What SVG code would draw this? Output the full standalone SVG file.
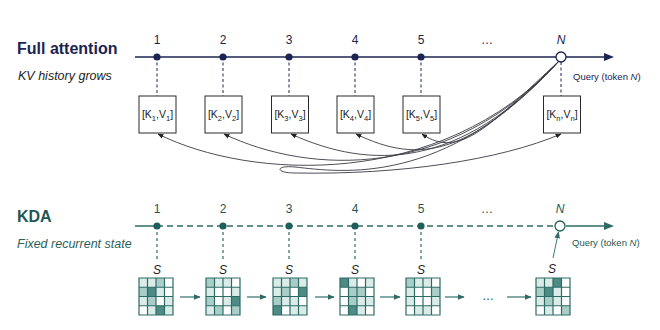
<svg xmlns="http://www.w3.org/2000/svg" width="660" height="330" viewBox="0 0 660 330">
<style>
  text { font-family: "Liberation Sans", Arial, sans-serif; }
  .title { font-size: 16px; font-weight: bold; }
  .sub { font-size: 12.5px; font-style: italic; }
  .num { font-size: 12px; text-anchor: middle; }
  .q { font-size: 9.5px; }
  .navy { fill: #1b2452; }
  .teal { fill: #1f5753; }
  .box { fill: #ffffff; stroke: #2a2a2a; stroke-width: 1; }
  .kv { font-size: 10.5px; fill: #222; text-anchor: middle; }
  .curve { fill: none; stroke: #3a3a44; stroke-width: 0.9; marker-end: url(#ah); }
  .vdashN { stroke: #1b2452; stroke-width: 1; stroke-dasharray: 3 2.5; }
  .vdashT { stroke: #2e6b67; stroke-width: 1.2; stroke-dasharray: 3 3; }
  .gl { fill: none; stroke: #2e6b67; stroke-width: 1.2; }
  .w { fill: #ffffff; } .l { fill: #dbebe8; } .m { fill: #a9cec8; } .d { fill: #4d8b84; }
  .harr { stroke: #3f7a75; stroke-width: 1.3; marker-end: url(#ahT); }
  .S { font-size: 12px; font-style: italic; fill: #222; text-anchor: middle; }
</style>
<defs>
  <marker id="ah" viewBox="0 0 10 10" refX="9" refY="5" markerWidth="6" markerHeight="6" markerUnits="userSpaceOnUse" orient="auto">
    <path d="M0,1 L10,5 L0,9 Z" fill="#222"/>
  </marker>
  <marker id="ahT" viewBox="0 0 10 10" refX="9" refY="5" markerWidth="7" markerHeight="7" markerUnits="userSpaceOnUse" orient="auto">
    <path d="M0,1 L10,5 L0,9 Z" fill="#2e6b67"/>
  </marker>
</defs>

<!-- Titles -->
<text x="17" y="54" class="title navy">Full attention</text>
<text x="18" y="80" class="sub" fill="#222">KV history grows</text>
<text x="17" y="222" class="title teal">KDA</text>
<text x="17" y="248" class="sub" fill="#2b5f5b">Fixed recurrent state</text>

<!-- Top connectors -->
<g id="top-connectors">
  <line x1="135" y1="57" x2="606" y2="57" stroke="#1b2452" stroke-width="1.5"/>
  <path d="M604,53 L614,57 L604,61 Z" fill="#1b2452"/>
  <line x1="157" y1="57" x2="157" y2="96" class="vdashN"/>
  <line x1="223" y1="57" x2="223" y2="96" class="vdashN"/>
  <line x1="289" y1="57" x2="289" y2="96" class="vdashN"/>
  <line x1="355" y1="57" x2="355" y2="96" class="vdashN"/>
  <line x1="421" y1="57" x2="421" y2="96" class="vdashN"/>
  <line x1="561" y1="62" x2="561" y2="96" class="vdashN"/>
  <path class="curve" d="M559,61 C440,190 250,180 158,134"/>
  <path class="curve" d="M559,61 C450,180 310,175 224,134"/>
  <path class="curve" d="M559,61 C460,170 370,170 291,134"/>
  <path class="curve" d="M559,61 C470,155 420,165 356,134"/>
  <path class="curve" d="M559,61 C490,125 460,160 422,134"/>
  <path class="curve" d="M559,61 C445,188 340,172 295,167 C275,165 275,173 295,173 C400,175 500,160 561,134"/>
</g>

<!-- Top nodes -->
<g id="t1"><circle cx="157" cy="57" r="3.6" fill="#1b2452"/><text x="157" y="44" class="num navy">1</text></g>
<g id="t2"><circle cx="223" cy="57" r="3.6" fill="#1b2452"/><text x="223" y="44" class="num navy">2</text></g>
<g id="t3"><circle cx="289" cy="57" r="3.6" fill="#1b2452"/><text x="289" y="44" class="num navy">3</text></g>
<g id="t4"><circle cx="355" cy="57" r="3.6" fill="#1b2452"/><text x="355" y="44" class="num navy">4</text></g>
<g id="t5"><circle cx="421" cy="57" r="3.6" fill="#1b2452"/><text x="421" y="44" class="num navy">5</text></g>
<g id="tdots"><text x="487" y="44" class="num navy">…</text></g>
<g id="tN"><circle cx="561" cy="57" r="5" fill="#fff" stroke="#1b2452" stroke-width="1.3"/><text x="561" y="44" class="num navy" font-style="italic">N</text>
  <text x="573" y="80" class="q navy">Query (token <tspan font-style="italic">N</tspan>)</text></g>

<!-- KV boxes -->
<g id="kv1"><rect x="139" y="96" width="37" height="37" class="box"/><text x="157.5" y="118" class="kv">[K<tspan font-size="7.5" dy="2.5">1</tspan><tspan dy="-2.5">,V</tspan><tspan font-size="7.5" dy="2.5">1</tspan><tspan dy="-2.5">]</tspan></text></g>
<g id="kv2"><rect x="205" y="96" width="37" height="37" class="box"/><text x="223.5" y="118" class="kv">[K<tspan font-size="7.5" dy="2.5">2</tspan><tspan dy="-2.5">,V</tspan><tspan font-size="7.5" dy="2.5">2</tspan><tspan dy="-2.5">]</tspan></text></g>
<g id="kv3"><rect x="271.5" y="96" width="37" height="37" class="box"/><text x="290" y="118" class="kv">[K<tspan font-size="7.5" dy="2.5">3</tspan><tspan dy="-2.5">,V</tspan><tspan font-size="7.5" dy="2.5">3</tspan><tspan dy="-2.5">]</tspan></text></g>
<g id="kv4"><rect x="337" y="96" width="37" height="37" class="box"/><text x="355.5" y="118" class="kv">[K<tspan font-size="7.5" dy="2.5">4</tspan><tspan dy="-2.5">,V</tspan><tspan font-size="7.5" dy="2.5">4</tspan><tspan dy="-2.5">]</tspan></text></g>
<g id="kv5"><rect x="403" y="96" width="37" height="37" class="box"/><text x="421.5" y="118" class="kv">[K<tspan font-size="7.5" dy="2.5">5</tspan><tspan dy="-2.5">,V</tspan><tspan font-size="7.5" dy="2.5">5</tspan><tspan dy="-2.5">]</tspan></text></g>
<g id="kvn"><rect x="543.5" y="96" width="37" height="37" class="box"/><text x="562" y="118" class="kv">[K<tspan font-size="7.5" dy="2.5">n</tspan><tspan dy="-2.5">,V</tspan><tspan font-size="7.5" dy="2.5">n</tspan><tspan dy="-2.5">]</tspan></text></g>

<!-- Bottom connectors -->
<g id="bottom-connectors">
  <line x1="135" y1="226" x2="157" y2="226" stroke="#2e6b67" stroke-width="1.5"/>
  <line x1="157" y1="226" x2="555" y2="226" stroke="#2e6b67" stroke-width="1.3" stroke-dasharray="6 4"/>
  <line x1="566" y1="226" x2="606" y2="226" stroke="#2e6b67" stroke-width="1.5"/>
  <path d="M604,222 L614,226 L604,230 Z" fill="#2e6b67"/>
  <line x1="157" y1="226" x2="157" y2="260" class="vdashT"/>
  <line x1="223" y1="226" x2="223" y2="260" class="vdashT"/>
  <line x1="289" y1="226" x2="289" y2="260" class="vdashT"/>
  <line x1="355" y1="226" x2="355" y2="260" class="vdashT"/>
  <line x1="421" y1="226" x2="421" y2="260" class="vdashT"/>
  <line x1="553" y1="258" x2="558.5" y2="232" stroke="#3f7a75" stroke-width="1" marker-end="url(#ahT)"/>
  <line x1="180" y1="297" x2="200" y2="297" class="harr"/>
  <line x1="247" y1="297" x2="266" y2="297" class="harr"/>
  <line x1="315" y1="297" x2="334" y2="297" class="harr"/>
  <line x1="380" y1="297" x2="400" y2="297" class="harr"/>
  <line x1="445" y1="297" x2="464" y2="297" class="harr"/>
  <line x1="507" y1="297" x2="531" y2="297" class="harr"/>
</g>

<!-- Bottom nodes -->
<g id="b1"><circle cx="157" cy="226" r="3.6" fill="#1f5f5b"/><text x="157" y="213" class="num teal">1</text></g>
<g id="b2"><circle cx="223" cy="226" r="3.6" fill="#1f5f5b"/><text x="223" y="213" class="num teal">2</text></g>
<g id="b3"><circle cx="289" cy="226" r="3.6" fill="#1f5f5b"/><text x="289" y="213" class="num teal">3</text></g>
<g id="b4"><circle cx="355" cy="226" r="3.6" fill="#1f5f5b"/><text x="355" y="213" class="num teal">4</text></g>
<g id="b5"><circle cx="421" cy="226" r="3.6" fill="#1f5f5b"/><text x="421" y="213" class="num teal">5</text></g>
<g id="bdots"><text x="487" y="213" class="num teal">…</text></g>
<g id="bN"><circle cx="560" cy="226" r="5" fill="#fff" stroke="#1f5f5b" stroke-width="1.3"/><text x="560" y="213" class="num teal" font-style="italic">N</text>
  <text x="572" y="246" class="q teal">Query (token <tspan font-style="italic">N</tspan>)</text></g>

<!-- S labels -->
<g id="s-labels">
  <text x="157" y="274" class="S">S</text>
  <text x="223" y="274" class="S">S</text>
  <text x="289" y="274" class="S">S</text>
  <text x="355" y="274" class="S">S</text>
  <text x="421" y="274" class="S">S</text>
  <text x="552" y="273" class="S">S</text>
</g>

<!-- State grids: cell 8.5 x 9.25 -->
<g id="grid1" transform="translate(139,278)">
  <rect x="0" y="0" width="8.5" height="9.25" class="l"/><rect x="8.5" y="0" width="8.5" height="9.25" class="l"/><rect x="17" y="0" width="8.5" height="9.25" class="m"/><rect x="25.5" y="0" width="8.5" height="9.25" class="w"/>
  <rect x="0" y="9.25" width="8.5" height="9.25" class="m"/><rect x="8.5" y="9.25" width="8.5" height="9.25" class="d"/><rect x="17" y="9.25" width="8.5" height="9.25" class="l"/><rect x="25.5" y="9.25" width="8.5" height="9.25" class="w"/>
  <rect x="0" y="18.5" width="8.5" height="9.25" class="l"/><rect x="8.5" y="18.5" width="8.5" height="9.25" class="m"/><rect x="17" y="18.5" width="8.5" height="9.25" class="w"/><rect x="25.5" y="18.5" width="8.5" height="9.25" class="l"/>
  <rect x="0" y="27.75" width="8.5" height="9.25" class="w"/><rect x="8.5" y="27.75" width="8.5" height="9.25" class="l"/><rect x="17" y="27.75" width="8.5" height="9.25" class="d"/><rect x="25.5" y="27.75" width="8.5" height="9.25" class="l"/>
  <path class="gl" d="M0,0 H34 V37 H0 Z M8.5,0 V37 M17,0 V37 M25.5,0 V37 M0,9.25 H34 M0,18.5 H34 M0,27.75 H34"/>
</g>
<g id="grid2" transform="translate(206,278)">
  <rect x="0" y="0" width="8.5" height="9.25" class="m"/><rect x="8.5" y="0" width="8.5" height="9.25" class="l"/><rect x="17" y="0" width="8.5" height="9.25" class="l"/><rect x="25.5" y="0" width="8.5" height="9.25" class="w"/>
  <rect x="0" y="9.25" width="8.5" height="9.25" class="l"/><rect x="8.5" y="9.25" width="8.5" height="9.25" class="w"/><rect x="17" y="9.25" width="8.5" height="9.25" class="w"/><rect x="25.5" y="9.25" width="8.5" height="9.25" class="l"/>
  <rect x="0" y="18.5" width="8.5" height="9.25" class="m"/><rect x="8.5" y="18.5" width="8.5" height="9.25" class="w"/><rect x="17" y="18.5" width="8.5" height="9.25" class="l"/><rect x="25.5" y="18.5" width="8.5" height="9.25" class="d"/>
  <rect x="0" y="27.75" width="8.5" height="9.25" class="l"/><rect x="8.5" y="27.75" width="8.5" height="9.25" class="m"/><rect x="17" y="27.75" width="8.5" height="9.25" class="w"/><rect x="25.5" y="27.75" width="8.5" height="9.25" class="m"/>
  <path class="gl" d="M0,0 H34 V37 H0 Z M8.5,0 V37 M17,0 V37 M25.5,0 V37 M0,9.25 H34 M0,18.5 H34 M0,27.75 H34"/>
</g>
<g id="grid3" transform="translate(273,278)">
  <rect x="0" y="0" width="8.5" height="9.25" class="l"/><rect x="8.5" y="0" width="8.5" height="9.25" class="l"/><rect x="17" y="0" width="8.5" height="9.25" class="m"/><rect x="25.5" y="0" width="8.5" height="9.25" class="l"/>
  <rect x="0" y="9.25" width="8.5" height="9.25" class="l"/><rect x="8.5" y="9.25" width="8.5" height="9.25" class="m"/><rect x="17" y="9.25" width="8.5" height="9.25" class="w"/><rect x="25.5" y="9.25" width="8.5" height="9.25" class="d"/>
  <rect x="0" y="18.5" width="8.5" height="9.25" class="m"/><rect x="8.5" y="18.5" width="8.5" height="9.25" class="l"/><rect x="17" y="18.5" width="8.5" height="9.25" class="l"/><rect x="25.5" y="18.5" width="8.5" height="9.25" class="w"/>
  <rect x="0" y="27.75" width="8.5" height="9.25" class="d"/><rect x="8.5" y="27.75" width="8.5" height="9.25" class="w"/><rect x="17" y="27.75" width="8.5" height="9.25" class="l"/><rect x="25.5" y="27.75" width="8.5" height="9.25" class="l"/>
  <path class="gl" d="M0,0 H34 V37 H0 Z M8.5,0 V37 M17,0 V37 M25.5,0 V37 M0,9.25 H34 M0,18.5 H34 M0,27.75 H34"/>
</g>
<g id="grid4" transform="translate(340,278)">
  <rect x="0" y="0" width="8.5" height="9.25" class="d"/><rect x="8.5" y="0" width="8.5" height="9.25" class="l"/><rect x="17" y="0" width="8.5" height="9.25" class="w"/><rect x="25.5" y="0" width="8.5" height="9.25" class="l"/>
  <rect x="0" y="9.25" width="8.5" height="9.25" class="w"/><rect x="8.5" y="9.25" width="8.5" height="9.25" class="m"/><rect x="17" y="9.25" width="8.5" height="9.25" class="m"/><rect x="25.5" y="9.25" width="8.5" height="9.25" class="w"/>
  <rect x="0" y="18.5" width="8.5" height="9.25" class="w"/><rect x="8.5" y="18.5" width="8.5" height="9.25" class="m"/><rect x="17" y="18.5" width="8.5" height="9.25" class="l"/><rect x="25.5" y="18.5" width="8.5" height="9.25" class="l"/>
  <rect x="0" y="27.75" width="8.5" height="9.25" class="w"/><rect x="8.5" y="27.75" width="8.5" height="9.25" class="d"/><rect x="17" y="27.75" width="8.5" height="9.25" class="l"/><rect x="25.5" y="27.75" width="8.5" height="9.25" class="w"/>
  <path class="gl" d="M0,0 H34 V37 H0 Z M8.5,0 V37 M17,0 V37 M25.5,0 V37 M0,9.25 H34 M0,18.5 H34 M0,27.75 H34"/>
</g>
<g id="grid5" transform="translate(406,278)">
  <rect x="0" y="0" width="8.5" height="9.25" class="m"/><rect x="8.5" y="0" width="8.5" height="9.25" class="l"/><rect x="17" y="0" width="8.5" height="9.25" class="l"/><rect x="25.5" y="0" width="8.5" height="9.25" class="w"/>
  <rect x="0" y="9.25" width="8.5" height="9.25" class="l"/><rect x="8.5" y="9.25" width="8.5" height="9.25" class="w"/><rect x="17" y="9.25" width="8.5" height="9.25" class="w"/><rect x="25.5" y="9.25" width="8.5" height="9.25" class="m"/>
  <rect x="0" y="18.5" width="8.5" height="9.25" class="l"/><rect x="8.5" y="18.5" width="8.5" height="9.25" class="w"/><rect x="17" y="18.5" width="8.5" height="9.25" class="w"/><rect x="25.5" y="18.5" width="8.5" height="9.25" class="l"/>
  <rect x="0" y="27.75" width="8.5" height="9.25" class="w"/><rect x="8.5" y="27.75" width="8.5" height="9.25" class="l"/><rect x="17" y="27.75" width="8.5" height="9.25" class="l"/><rect x="25.5" y="27.75" width="8.5" height="9.25" class="w"/>
  <path class="gl" d="M0,0 H34 V37 H0 Z M8.5,0 V37 M17,0 V37 M25.5,0 V37 M0,9.25 H34 M0,18.5 H34 M0,27.75 H34"/>
</g>
<g id="gridn" transform="translate(536,278)">
  <rect x="0" y="0" width="8.5" height="9.25" class="l"/><rect x="8.5" y="0" width="8.5" height="9.25" class="l"/><rect x="17" y="0" width="8.5" height="9.25" class="d"/><rect x="25.5" y="0" width="8.5" height="9.25" class="w"/>
  <rect x="0" y="9.25" width="8.5" height="9.25" class="m"/><rect x="8.5" y="9.25" width="8.5" height="9.25" class="d"/><rect x="17" y="9.25" width="8.5" height="9.25" class="l"/><rect x="25.5" y="9.25" width="8.5" height="9.25" class="w"/>
  <rect x="0" y="18.5" width="8.5" height="9.25" class="l"/><rect x="8.5" y="18.5" width="8.5" height="9.25" class="m"/><rect x="17" y="18.5" width="8.5" height="9.25" class="l"/><rect x="25.5" y="18.5" width="8.5" height="9.25" class="w"/>
  <rect x="0" y="27.75" width="8.5" height="9.25" class="w"/><rect x="8.5" y="27.75" width="8.5" height="9.25" class="l"/><rect x="17" y="27.75" width="8.5" height="9.25" class="w"/><rect x="25.5" y="27.75" width="8.5" height="9.25" class="m"/>
  <path class="gl" d="M0,0 H34 V37 H0 Z M8.5,0 V37 M17,0 V37 M25.5,0 V37 M0,9.25 H34 M0,18.5 H34 M0,27.75 H34"/>
</g>
<g id="gdots"><text x="488" y="300" class="num teal">…</text></g>
</svg>
